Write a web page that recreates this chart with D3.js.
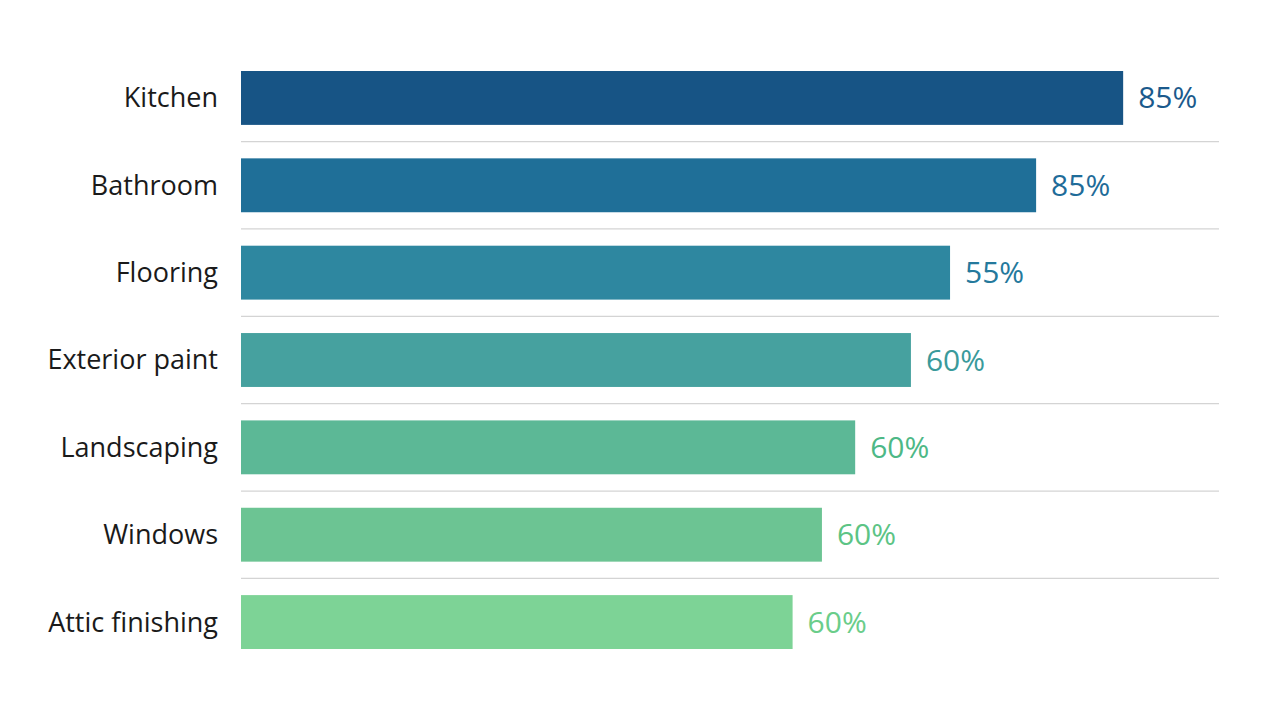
<!DOCTYPE html>
<html>
<head>
<meta charset="utf-8">
<script src="https://cdn.jsdelivr.net/npm/d3@7"></script>
<style>
  html, body { margin: 0; padding: 0; background: #fff; }
  svg { display: block; font-family: "Open Sans", "Noto Sans", sans-serif; }
</style>
</head>
<body>
<div id="chart"></div>
<script>
const categories = ["Kitchen", "Bathroom", "Flooring", "Exterior paint", "Landscaping", "Windows", "Attic finishing"];
// bar lengths as drawn (share of the 0-100 axis)
const values = [90.2, 81.3, 72.5, 68.5, 62.8, 59.4, 56.4];
// printed labels, as they appear next to the bars
const valueLabels = ["85%", "85%", "55%", "60%", "60%", "60%", "60%"];
const barColors = ["#175485", "#1f6f98", "#2e87a0", "#46a19f", "#5cb896", "#6cc493", "#7dd396"];
const labelColors = ["#1b5a8c", "#1f6c99", "#24799c", "#3a9a9b", "#4db886", "#5cc485", "#6acd8a"];

const width = 1280;
const height = 720;

const svg = d3.select("#chart").append("svg")
  .attr("width", width)
  .attr("height", height);

const x = d3.scaleLinear().domain([0, 100]).range([241, 1219]);
const y = d3.scaleBand()
  .domain(categories)
  .range([71, 649])
  .paddingInner(0.383)
  .paddingOuter(0);

const gap = y.step() - y.bandwidth();

// separators between rows
svg.append("g")
  .selectAll("line")
  .data(categories.slice(0, -1))
  .join("line")
  .attr("x1", x(0))
  .attr("x2", x(100))
  .attr("y1", d => y(d) + y.bandwidth() + gap / 2)
  .attr("y2", d => y(d) + y.bandwidth() + gap / 2)
  .attr("stroke", "#d4d4d4")
  .attr("stroke-width", 1.2);

svg.append("g")
  .selectAll("rect")
  .data(categories)
  .join("rect")
  .attr("x", x(0))
  .attr("y", d => y(d))
  .attr("width", (d, i) => x(values[i]) - x(0))
  .attr("height", y.bandwidth())
  .attr("fill", (d, i) => barColors[i]);

svg.append("g")
  .selectAll("text")
  .data(categories)
  .join("text")
  .attr("x", 218)
  .attr("y", d => y(d) + y.bandwidth() / 2)
  .attr("dy", "0.35em")
  .attr("text-anchor", "end")
  .attr("font-size", 27)
  .attr("fill", "#1a1a1a")
  .text(d => d);

svg.append("g")
  .selectAll("text")
  .data(categories)
  .join("text")
  .attr("x", (d, i) => x(values[i]) + 15)
  .attr("y", d => y(d) + y.bandwidth() / 2)
  .attr("dy", "0.35em")
  .attr("font-size", 30)
  .attr("fill", (d, i) => labelColors[i])
  .text((d, i) => valueLabels[i]);
</script>
</body>
</html>
